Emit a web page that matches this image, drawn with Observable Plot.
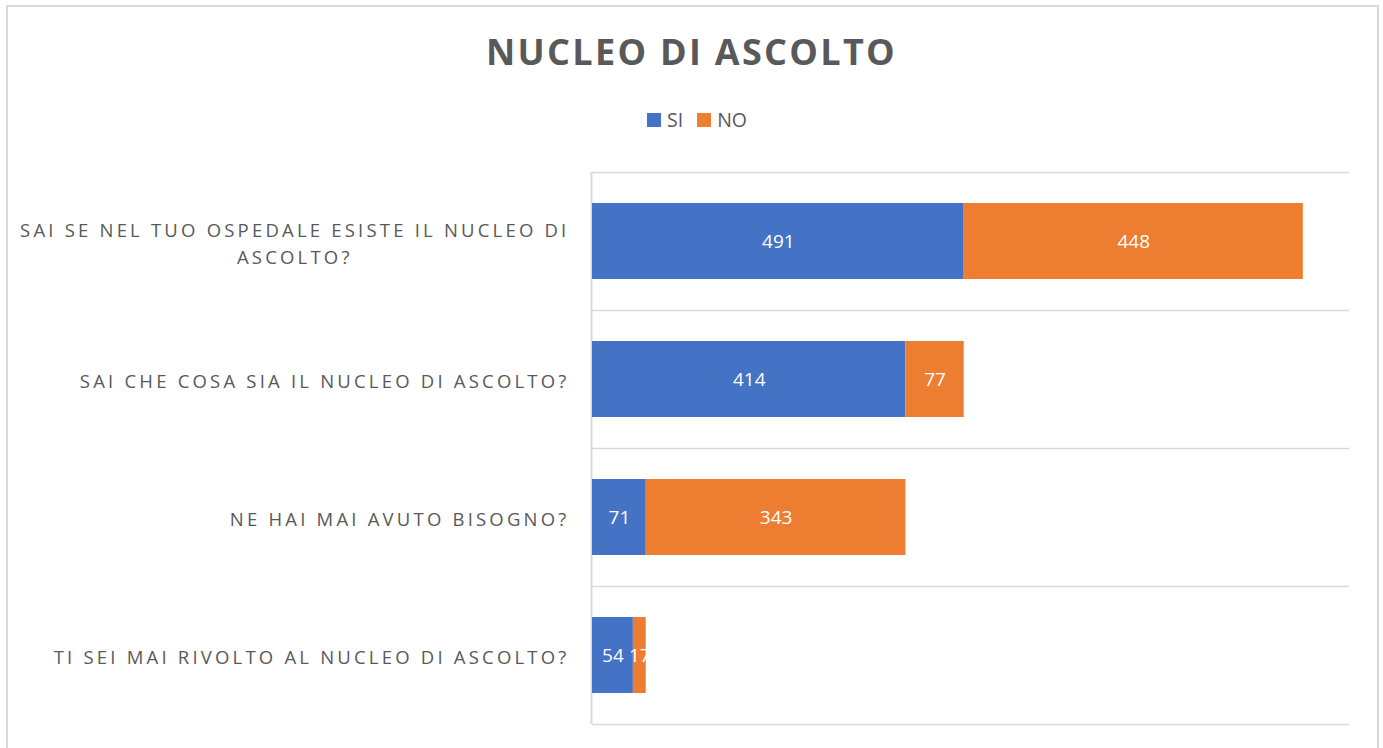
<!DOCTYPE html>
<html><head><meta charset="utf-8">
<script src="https://cdn.jsdelivr.net/npm/d3@7"></script>
<script src="https://cdn.jsdelivr.net/npm/@observablehq/plot@0.6"></script>
<style>
html,body{margin:0;padding:0;background:#fff;overflow:hidden;}
#wrap{position:relative;width:1383px;height:748px;overflow:hidden;}
#frame{position:absolute;left:6px;top:5px;width:1373px;height:800px;border:2px solid #d9d9d9;box-sizing:border-box;}
#title{position:absolute;left:0;top:34px;width:1383px;text-align:center;font-family:"Open Sans",sans-serif;font-weight:700;font-size:36px;line-height:36px;letter-spacing:2.3px;color:#595959;}
#legend{position:absolute;left:647px;top:110px;display:flex;align-items:center;font-family:"Open Sans",sans-serif;font-size:19.5px;line-height:20px;color:#595959;}
#legend .sw{display:inline-block;width:14px;height:14px;margin-right:6px;}
#legend .lab{margin-right:14px;}
#chart{position:absolute;left:0;top:162px;}
#chart g[aria-label="y-axis tick label"]{letter-spacing:3.2px;}
</style>
</head><body>
<div id="wrap">
  <div id="frame"></div>
  <div id="title">NUCLEO DI ASCOLTO</div>
  <div id="legend"></div>
  <div id="chart"></div>
</div>
<script>
const categories = [
  "SAI SE NEL TUO OSPEDALE ESISTE IL NUCLEO DI ASCOLTO?",
  "SAI CHE COSA SIA IL NUCLEO DI ASCOLTO?",
  "NE HAI MAI AVUTO BISOGNO?",
  "TI SEI MAI RIVOLTO AL NUCLEO DI ASCOLTO?"
];
const tickLabels = [
  "SAI SE NEL TUO OSPEDALE ESISTE IL NUCLEO DI\nASCOLTO?",
  "SAI CHE COSA SIA IL NUCLEO DI ASCOLTO?",
  "NE HAI MAI AVUTO BISOGNO?",
  "TI SEI MAI RIVOLTO AL NUCLEO DI ASCOLTO?"
];
const series = ["SI", "NO"];
const siValues = [491, 414, 71, 54];
const noValues = [448, 77, 343, 17];
const colors = ["#4472C4", "#ED7D31"];
const xDomain = [0, 1000];

const rows = [];
categories.forEach((c, i) => {
  rows.push({q: c, serie: "SI", value: siValues[i]});
  rows.push({q: c, serie: "NO", value: noValues[i]});
});

// legend
const legend = document.getElementById("legend");
series.forEach((s, i) => {
  const sw = document.createElement("span");
  sw.className = "sw"; sw.style.background = colors[i];
  const lab = document.createElement("span");
  lab.className = "lab"; lab.textContent = s;
  legend.appendChild(sw); legend.appendChild(lab);
});

const W = 1383, H = 582, mT = 10, mB = 20, mL = 592, mR = 34;
const padInner = 0.45;
const step = (H - mT - mB) / categories.length;
const labelMap = new Map(categories.map((c, i) => [c, tickLabels[i]]));

const chart = Plot.plot({
  width: W, height: H,
  marginTop: mT, marginBottom: mB, marginLeft: mL, marginRight: mR,
  style: {fontFamily: "Open Sans, sans-serif", fontSize: "18.5px", color: "#595959", background: "transparent"},
  x: {domain: xDomain, axis: null},
  y: {domain: categories, paddingInner: padInner, paddingOuter: padInner / 2, label: null},
  color: {domain: series, range: colors},
  marks: [
    Plot.ruleY(categories, {y: d => d, dy: -step / 2, stroke: "#d9d9d9", strokeWidth: 1.3}),
    Plot.ruleY(categories.slice(-1), {y: d => d, dy: step / 2, stroke: "#d9d9d9", strokeWidth: 1.3}),
    Plot.ruleX([0], {stroke: "#d9d9d9", strokeWidth: 2, dx: -1}),
    Plot.barX(rows, {x: "value", y: "q", fill: "serie", order: series}),
    Plot.text(rows, Plot.stackX({x: "value", y: "q", z: "serie", order: series, text: d => String(d.value), fill: "white", fontSize: 19})),
    Plot.axisY({tickSize: 0, tickPadding: 23, label: null, tickFormat: d => labelMap.get(d), lineHeight: 1.5, fill: "#595959"})
  ]
});
document.getElementById("chart").appendChild(chart);

chart.querySelectorAll('g[aria-label="y-axis tick label"] text').forEach(t => {
  const tsp = t.querySelectorAll("tspan");
  if (tsp.length > 1) {
    const w = t.getBBox().width;
    t.setAttribute("text-anchor", "middle");
    tsp.forEach(s => s.setAttribute("x", -w / 2));
  }
});
</script>
</body></html>
